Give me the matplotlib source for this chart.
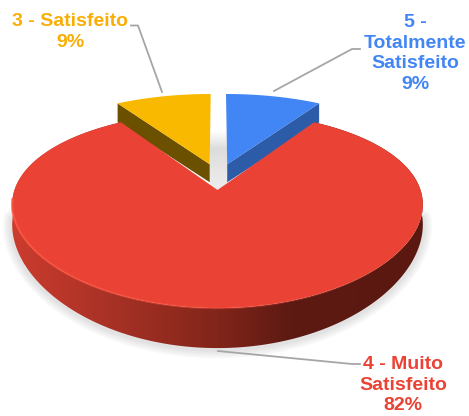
import matplotlib
matplotlib.use("Agg")
import matplotlib.pyplot as plt
import numpy as np
from matplotlib.collections import LineCollection
from matplotlib.colors import LinearSegmentedColormap
from matplotlib.patches import Polygon

plt.rcParams['font.family'] = ['Liberation Sans', 'DejaVu Sans']

labels = ["5 -\nTotalmente\nSatisfeito", "4 - Muito\nSatisfeito", "3 - Satisfeito"]
values = [9, 82, 9]

top_colors = ["#4285f4", "#ea4335", "#f9b900"]
wall_colors = ["#2c5ca8", "#a32f25", "#6b5000"]
text_colors = ["#4285f4", "#ea4335", "#f9ae05"]

# layout of the fake 3d view, in pixels of the 469x416 picture
cx, cy = 217.5, 190
A, B = 203, 94
kx, ky = 0.15, 0.204
explode = [(0.05, 0.29), (0, 0), (-0.04, 0.29)]
label_pos = [(415, 53.5), (403, 385), (70, 32)]
leaders = [[(360, 49), (352, 49), (274, 91)],
           [(360, 364), (352, 364), (218, 351)],
           [(131, 25.5), (138, 25.5), (162, 92)]]


def to_screen(X, Y):
    # disc coordinates -> screen position with perspective
    return cx + A * X / (1 + kx * Y), cy - B * Y / (1 + ky * Y)


def project(theta, ex=(0, 0)):
    # theta in clockwise degrees from 12 o'clock
    t = np.radians(theta)
    return to_screen(np.sin(t) + ex[0], np.cos(t) + ex[1])


def depth(theta, ex=(0, 0)):
    Y = np.cos(np.radians(theta)) + ex[1]
    return 19 + 21 * np.maximum(-Y, 0) ** 1.5


fig = plt.figure(figsize=(4.69, 4.16), dpi=100)
ax = fig.add_axes([0, 0, 1, 1])

bounds = np.cumsum([0] + values) / sum(values) * 360
starts, ends = bounds[:-1], bounds[1:]

# soft shadow under the big slice
front = np.linspace(95, 265, 120)
fx, fy = project(front)
fy = fy + depth(front)
for lw in [13, 10, 7, 4]:
    ax.plot(fx, fy + 1, color="#808080", alpha=0.06, lw=lw, solid_capstyle="round", zorder=1)

# shade seen through the gap between the two small slices
vx, vy = to_screen(*explode[0])
ux, uy = to_screen(*explode[2])
gap = np.array([[0.0], [1.0], [0.75], [0.55]])
gray = LinearSegmentedColormap.from_list("gap", ["#ffffff", "#dcdcdc"])
ax.imshow(gap, cmap=gray, vmin=0, vmax=1, aspect="auto", interpolation="bilinear",
          extent=(ux, vx, cy + 4, cy - 68), zorder=1)

# small slices: wall first, then top face
for i in [0, 2]:
    edge = ends[i] if i == 0 else starts[i]
    ex = explode[i]
    ox, oy = to_screen(*ex)
    ex_x, ex_y = project(edge, ex)
    d = depth(edge, ex)
    ax.add_patch(Polygon([(ox, oy), (ex_x, ex_y), (ex_x, ex_y + d), (ox, oy + 18)],
                         fc=wall_colors[i], ec="none", zorder=2))
    th = np.linspace(starts[i], ends[i], 40)
    px, py = project(th, ex)
    ax.add_patch(Polygon(np.r_[[(ox, oy)], np.c_[px, py]], fc=top_colors[i], ec="none", zorder=3))

# big slice wall with a left to right gradient
th = np.linspace(starts[1], ends[1], 300)
px, py = project(th)
wall = Polygon(np.r_[np.c_[px, py], np.c_[px, py + depth(th)][::-1]], fc="none", ec="none", zorder=4)
ax.add_patch(wall)
cmap = LinearSegmentedColormap.from_list(
    "wall", [(0, "#cb3c2e"), (0.22, "#ab3226"), (0.5, "#82251a"), (0.68, "#5c1a12"), (1, "#5a1810")])
im = ax.imshow(np.linspace(0, 1, 256)[None, :], cmap=cmap, aspect="auto",
               extent=(px.min(), px.max(), 360, 100), zorder=4)
im.set_clip_path(wall)

# big slice top face
ax.add_patch(Polygon(np.r_[[(cx, cy)], np.c_[px, py]], fc=top_colors[1], ec="none", zorder=5))

# bright rim along the near edge, fading out to the right
rim = np.linspace(265, 120, 120)
rx, ry = project(rim)
pts = np.c_[rx, ry]
segs = np.stack([pts[:-1], pts[1:]], axis=1)
rim_alpha = np.linspace(0.9, 0.0, len(segs))
rim_rgba = [(1.0, 0.33, 0.25, a) for a in rim_alpha]
ax.add_collection(LineCollection(segs, colors=rim_rgba, linewidths=1.6, zorder=6))

# leader lines and labels
for i in range(len(values)):
    ln = np.array(leaders[i])
    ax.plot(ln[:, 0], ln[:, 1], color="#a6a6a6", lw=1.3, zorder=7)
    ax.text(label_pos[i][0], label_pos[i][1], f"{labels[i]}\n{values[i]}%", color=text_colors[i],
            fontsize=14, fontweight="bold", ha="center", va="center", linespacing=1.3, zorder=8)

ax.set_xlim(0, 469)
ax.set_ylim(416, 0)
ax.axis("off")

fig.savefig("out.png", dpi=100)
